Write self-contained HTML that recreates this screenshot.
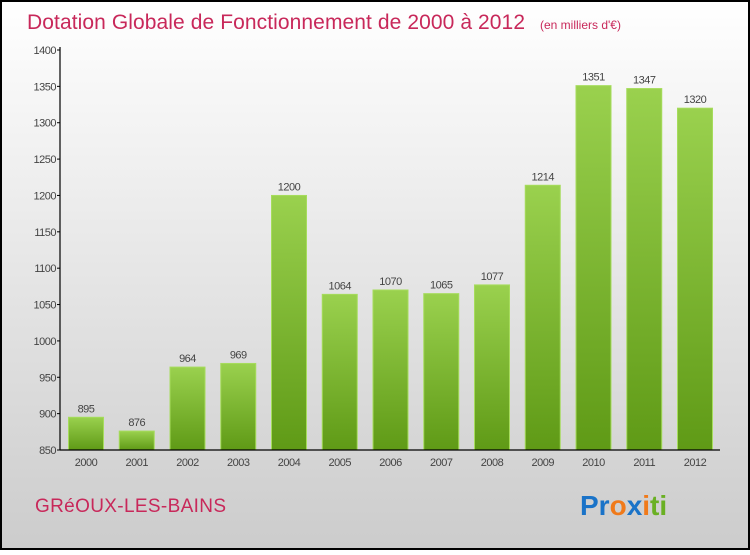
<!DOCTYPE html>
<html><head><meta charset="utf-8"><style>
html,body{margin:0;padding:0;}
body{width:750px;height:550px;overflow:hidden;font-family:"Liberation Sans",sans-serif;}
</style></head><body>
<svg id="chart" width="750" height="550" xmlns="http://www.w3.org/2000/svg">
<defs>
<linearGradient id="bg" x1="0" y1="0" x2="0" y2="1"><stop offset="0" stop-color="#ffffff"/><stop offset="1" stop-color="#cccccc"/></linearGradient>
<linearGradient id="bar" x1="0" y1="0" x2="0" y2="1"><stop offset="0" stop-color="#9ad14e"/><stop offset="1" stop-color="#5f9a16"/></linearGradient>
</defs>
<rect x="1" y="1" width="748" height="548" fill="url(#bg)" stroke="#000" stroke-width="2"/>
<text x="27" y="29" font-size="21" fill="#c8285a" textLength="498">Dotation Globale de Fonctionnement de 2000 à 2012</text>
<text x="540" y="29" font-size="12" fill="#c8285a">(en milliers d'€)</text>
<g id="plot"></g>
<text x="35" y="512" font-size="19" fill="#c8285a" textLength="191">GRéOUX-LES-BAINS</text>
<text x="580" y="515" font-size="28" font-weight="bold"><tspan fill="#1a73c8">Pr</tspan><tspan fill="#f07a1a">o</tspan><tspan fill="#1a73c8">x</tspan><tspan fill="#f07a1a">i</tspan><tspan fill="#6ab023">ti</tspan></text>
</svg>
<script>
const categories=["2000","2001","2002","2003","2004","2005","2006","2007","2008","2009","2010","2011","2012"];
const values=[895,876,964,969,1200,1064,1070,1065,1077,1214,1351,1347,1320];
const yTicks=[850,900,950,1000,1050,1100,1150,1200,1250,1300,1350,1400];
const NS="http://www.w3.org/2000/svg";
const g=document.getElementById('plot');
const y0=450,y1=50,vmin=850,vmax=1400;
function y(v){return y0-(v-vmin)/(vmax-vmin)*(y0-y1);}
function x(i){return 86+i*50.75;}
function mk(t,a,txt){const e=document.createElementNS(NS,t);for(const k in a)e.setAttribute(k,a[k]);if(txt!==undefined)e.textContent=txt;g.appendChild(e);return e;}
yTicks.forEach(v=>{
 const l=mk('line',{x1:57,x2:60,y1:y(v),y2:y(v),stroke:'#000'});
 
 
 const t=mk('text',{x:56,y:y(v)+4,'font-size':11,fill:'#444','text-anchor':'end','letter-spacing':'-0.5'},v);
 
 
});
categories.forEach((c,i)=>{
 const r=mk('rect',{x:x(i)-17.5,y:y(values[i]),width:35,height:y0-y(values[i]),fill:'url(#bar)',stroke:'#a6dc5c','stroke-width':1});
 
 
 const v=mk('text',{x:x(i),y:y(values[i])-5,'font-size':11,fill:'#444','text-anchor':'middle','letter-spacing':'-0.5'},values[i]);
 
 
 const t=mk('text',{x:x(i),y:466,'font-size':11,fill:'#444','text-anchor':'middle','letter-spacing':'-0.5'},c);
 
 
});
const ya=mk('line',{x1:60,x2:60,y1:47,y2:450,stroke:'#000','stroke-width':1.2});


const xa=mk('line',{x1:60,x2:720,y1:450,y2:450,stroke:'#000','stroke-width':1.2});


</script>
</body></html>
